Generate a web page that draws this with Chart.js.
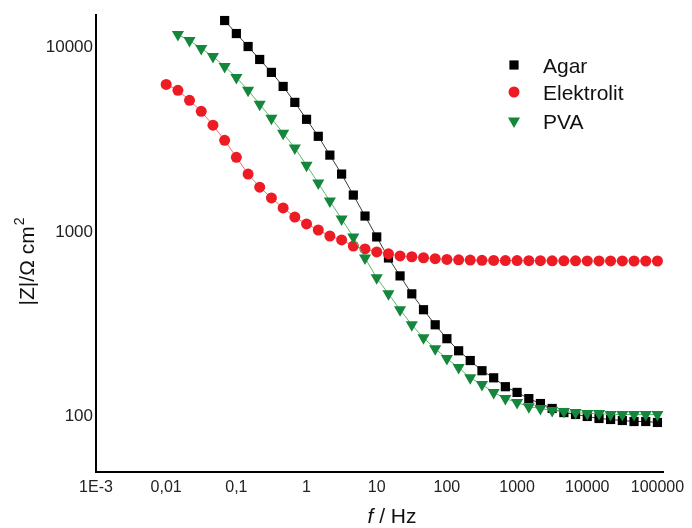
<!DOCTYPE html>
<html>
<head>
<meta charset="utf-8">
<script src="https://cdn.jsdelivr.net/npm/chart.js@4/dist/chart.umd.min.js"></script>
<style>
  body { margin: 0; background: #fff; }
  canvas { display: block; }
</style>
</head>
<body>
<canvas id="myChart" width="692" height="528"></canvas>
<script>
'use strict'

// frequencies, Hz (6 points per decade)
const freq = [0.01, 0.0147, 0.0215, 0.0316, 0.0464, 0.0681,
  0.1, 0.147, 0.215, 0.316, 0.464, 0.681,
  1, 1.47, 2.15, 3.16, 4.64, 6.81,
  10, 14.7, 21.5, 31.6, 46.4, 68.1,
  100, 147, 215, 316, 464, 681,
  1000, 1470, 2150, 3160, 4640, 6810,
  10000, 14700, 21500, 31600, 46400, 68100,
  100000];

// |Z| values, Ohm cm2
const elektrolitZ = [6310, 5860, 5170, 4510, 3790, 3140, 2540, 2060, 1750, 1530, 1350, 1205,
  1105, 1025, 951, 905, 839, 809, 780, 761, 742, 734, 725, 717,
  710, 706, 704, 702, 701, 700, 700, 699, 699, 698, 698, 698,
  697, 697, 697, 697, 696, 696, 696];
// PVA starts at 2nd frequency
const pvaZ = [11750, 10900, 9880, 8940, 7890, 6880, 5860, 4920, 4130, 3430, 2850,
  2300, 1840, 1470, 1175, 940, 723, 564, 462, 379, 314, 267,
  233, 206, 184, 162, 149, 135, 125, 119, 113, 110.5, 107.8,
  106.4, 105, 103.8, 103.8, 102.5, 102.5, 102.5, 102.5, 102.5];
// Agar starts at 6th frequency
const agarZ = [14000, 11900, 10120, 8610, 7330, 6150, 5040, 4080, 3300, 2610, 2060,
  1585, 1220, 940, 723, 578, 462, 379, 314, 264, 227, 201,
  177, 162, 145, 135, 125, 117.5, 110.5, 105, 102.5, 100, 97.5,
  96.3, 95.1, 93.9, 93.9, 92.8];

const xTicks = [0.001, 0.01, 0.1, 1, 10, 100, 1000, 10000, 100000];
const xTickLabels = ['1E-3', '0,01', '0,1', '1', '10', '100', '1000', '10000', '100000'];
const yTicks = [100, 1000, 10000];
const yTickLabels = ['100', '1000', '10000'];

const seriesNames = ['Agar', 'Elektrolit', 'PVA'];

function toPoints(values) {
  const offset = freq.length - values.length;
  let pts = [];
  for (let i = 0; i < values.length; i++) {
    pts.push({x: freq[i + offset], y: values[i]});
  }
  return pts;
}

const fontFamily = '"Liberation Sans", Arial, sans-serif';

const data = {
  datasets: [{
    label: seriesNames[0],
    data: toPoints(agarZ),
    borderColor: '#3a3a3a',
    borderWidth: 1,
    pointStyle: 'rect',
    pointRadius: 6.5,
    pointBackgroundColor: '#000',
    pointBorderWidth: 0,
    order: 3
  }, {
    label: seriesNames[1],
    data: toPoints(elektrolitZ),
    borderColor: '#f07070',
    borderWidth: 1,
    pointStyle: 'circle',
    pointRadius: 5.5,
    pointBackgroundColor: '#ed1c24',
    pointBorderWidth: 0,
    order: 2
  }, {
    label: seriesNames[2],
    data: toPoints(pvaZ),
    borderColor: '#5cb86a',
    borderWidth: 1,
    pointStyle: 'triangle',
    pointRotation: 180,
    pointRadius: 7,
    pointBackgroundColor: '#14873c',
    pointBorderWidth: 0,
    order: 1
  }]
};

// axis titles and legend drawn on top
const extras = {
  id: 'extras',
  afterDraw(chart) {
    const ctx = chart.ctx;
    ctx.save();
    ctx.fillStyle = '#111';
    ctx.textBaseline = 'alphabetic';
    ctx.textAlign = 'left';

    // y title, rotated
    ctx.save();
    ctx.translate(34, 262);
    ctx.rotate(-Math.PI / 2);
    ctx.font = '21px ' + fontFamily;
    const main = '|Z|/\u03A9 cm';
    const w1 = ctx.measureText(main).width;
    ctx.font = '14px ' + fontFamily;
    const w2 = ctx.measureText('2').width;
    let x0 = -(w1 + w2) / 2;
    ctx.font = '21px ' + fontFamily;
    ctx.fillText(main, x0, 0);
    ctx.font = '14px ' + fontFamily;
    ctx.fillText('2', x0 + w1 + 1, -10);
    ctx.restore();

    // x title
    ctx.font = 'italic 21px ' + fontFamily;
    const fw = ctx.measureText('f').width;
    ctx.font = '21px ' + fontFamily;
    const rest = ' / Hz';
    const rw = ctx.measureText(rest).width;
    let xs = 392 - (fw + rw) / 2;
    ctx.font = 'italic 21px ' + fontFamily;
    ctx.fillText('f', xs, 523);
    ctx.font = '21px ' + fontFamily;
    ctx.fillText(rest, xs + fw, 523);

    // legend
    const rows = [65, 92, 121];
    chart.data.datasets.forEach((ds, i) => {
      ctx.fillStyle = ds.pointBackgroundColor;
      Chart.helpers.drawPoint(ctx, {
        pointStyle: ds.pointStyle,
        rotation: ds.pointRotation || 0,
        radius: ds.pointRadius,
        borderWidth: 0
      }, 514, rows[i]);
      ctx.fillStyle = '#111';
      ctx.font = '21px ' + fontFamily;
      ctx.fillText(ds.label, 543, rows[i] + 8);
    });
    ctx.restore();
  }
};

const config = {
  type: 'line',
  data: data,
  options: {
    responsive: false,
    animation: false,
    layout: {padding: {top: 15, right: 29, left: 0, bottom: 0}},
    plugins: {
      legend: {display: false},
      tooltip: {enabled: false}
    },
    scales: {
      x: {
        type: 'logarithmic',
        min: 0.001,
        max: 120000,
        grid: {display: false, drawTicks: false},
        border: {display: true, color: '#000', width: 2},
        ticks: {
          padding: 6,
          autoSkip: false,
          maxRotation: 0,
          color: '#222',
          font: {size: 16, family: fontFamily},
          callback: (v, i) => xTickLabels[i]
        },
        afterBuildTicks: (s) => { s.ticks = xTicks.map(v => ({value: v})); },
        afterFit: (s) => { s.height = 56; }
      },
      y: {
        type: 'logarithmic',
        min: 50,
        max: 15000,
        grid: {display: false, drawTicks: false},
        border: {display: true, color: '#000', width: 2},
        ticks: {
          padding: 3,
          color: '#222',
          font: {size: 17, family: fontFamily},
          callback: (v, i) => yTickLabels[i]
        },
        afterBuildTicks: (s) => { s.ticks = yTicks.map(v => ({value: v})); },
        afterFit: (s) => { s.width = 96; }
      }
    }
  },
  plugins: [extras]
};

let myChart = new Chart(document.getElementById('myChart'), config);
</script>
</body>
</html>
